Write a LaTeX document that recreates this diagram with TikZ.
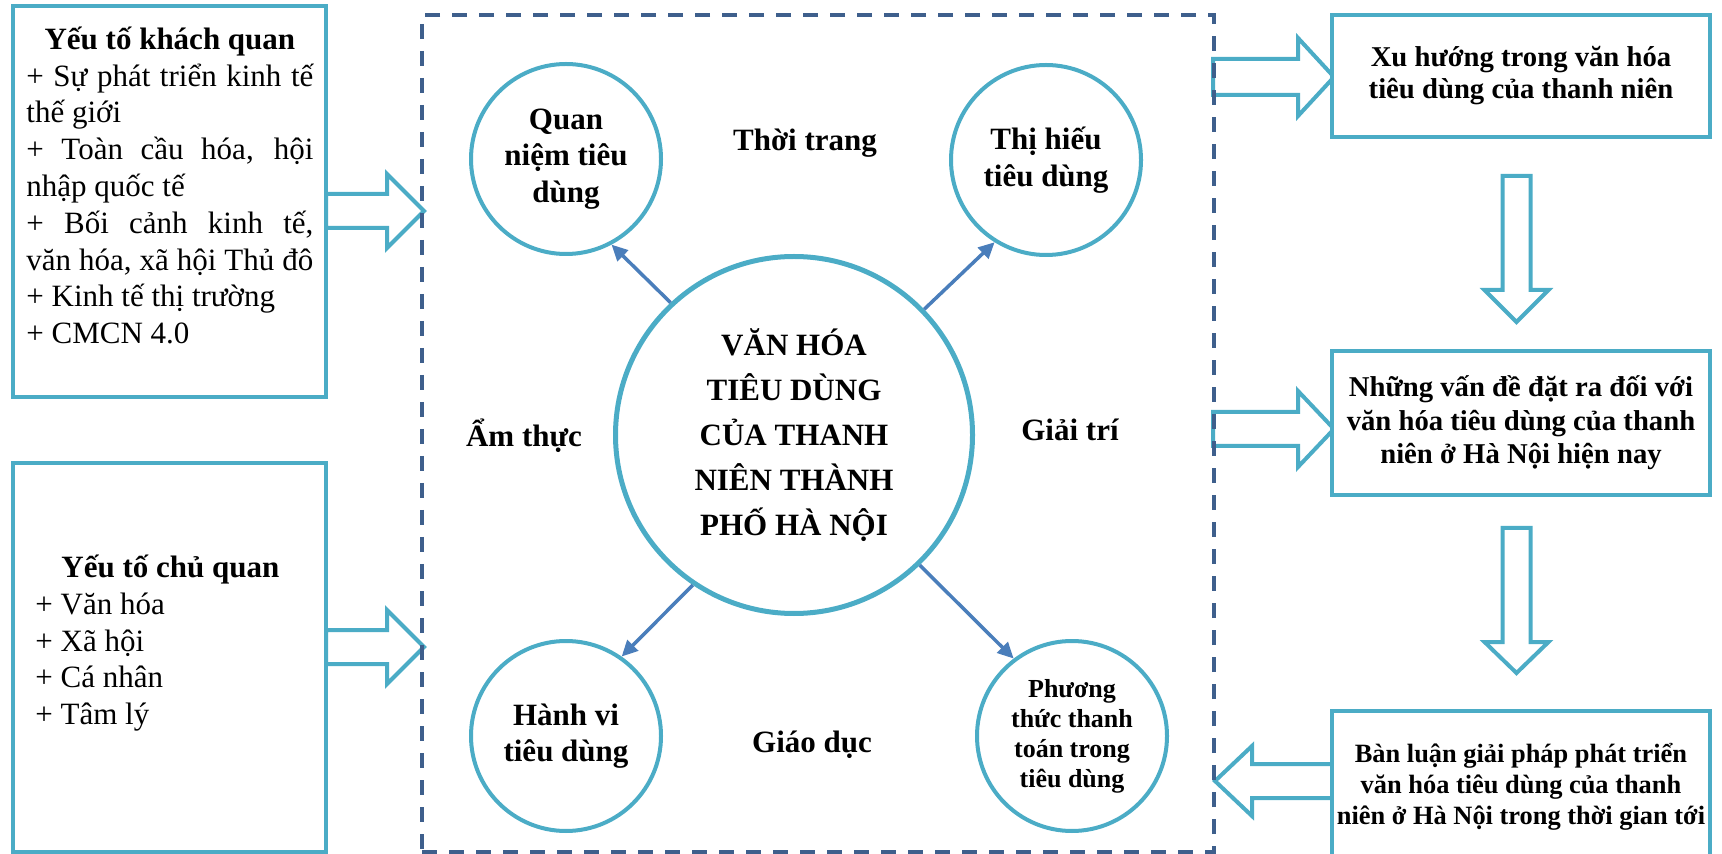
\documentclass[tikz,border=0pt]{standalone}
\usepackage{fontspec}
\setmainfont{Liberation Serif}
\usetikzlibrary{arrows.meta}
\definecolor{cyanB}{HTML}{4BACC6}
\definecolor{connC}{HTML}{4A7EBB}
\definecolor{dashB}{HTML}{3E5F8C}
\newcommand\blkH[6]{\draw[blockarr] (#1,#4-#5) -- (#2,#4-#5) -- (#2,#4-#6) -- (#3,#4) -- (#2,#4+#6) -- (#2,#4+#5) -- (#1,#4+#5) -- cycle;}
\newcommand\blkV[6]{\draw[blockarr] (#1-#5,#2) -- (#1-#5,#3) -- (#1-#6,#3) -- (#1,#4) -- (#1+#6,#3) -- (#1+#5,#3) -- (#1+#5,#2) -- cycle;}
\newcommand\fullline[1]{\makebox[143.5pt][s]{\spaceskip=0pt\xspaceskip=0pt\relax #1}}
\newcommand\natsp{\spaceskip=0pt\xspaceskip=0pt\relax}
\begin{document}
\begin{tikzpicture}[x=0.5pt,y=-0.5pt,
  box/.style={draw=cyanB, line width=2pt, fill=white, inner sep=0pt},
  circ/.style={circle, draw=cyanB, line width=2pt, fill=white, inner sep=0pt, minimum size=95pt, align=center, font=\bfseries\fontsize{15.5}{18.2}\selectfont},
  blockarr/.style={draw=cyanB, line width=2pt, fill=white, line join=miter},
  conn/.style={draw=connC, line width=1.75pt, -{Triangle[length=8pt,width=7.5pt]}},
  lbl/.style={font=\bfseries\fontsize{15.5}{18}\selectfont, inner sep=0pt, anchor=base},
  bodytext/.style={anchor=north west, inner sep=0pt, align=left, font=\fontsize{15.5}{18.4}\selectfont}
]
\useasboundingbox (0,0) rectangle (1722,854);
\clip (0,0) rectangle (1722,854);

% block arrows
\blkH{326}{387}{424}{211}{17}{37}
\blkH{326}{387}{424}{647}{17}{37}
\blkH{1213}{1298}{1334}{77}{18}{39}
\blkH{1213}{1298}{1334}{429}{17}{38}
\blkH{1332}{1252}{1215}{781}{17}{35}
\blkV{1516.5}{176}{290}{322}{14}{32}
\blkV{1516.5}{528}{642}{673}{14}{32}

% left boxes
\node[box, minimum width=156.5pt, minimum height=195.5pt] (k1) at (169.5,201.5) {};
\node[bodytext, text width=143.5pt] (k1t) at (26,19) {\natsp\rule{0pt}{15pt}\makebox[143.5pt][c]{\bfseries Yếu tố khách quan}\\
\fullline{+ Sự phát triển kinh tế}\\
thế giới\\
\fullline{+ Toàn cầu hóa, hội}\\
nhập quốc tế\\
\fullline{+ Bối cảnh kinh tế,}\\
\fullline{văn hóa, xã hội Thủ đô}\\
+ Kinh tế thị trường\\
+ CMCN 4.0};

\node[box, minimum width=156.5pt, minimum height=194.5pt] (k2) at (169.5,657.5) {};
\node[bodytext, text width=135pt] (k2t) at (35,547) {\natsp\rule{0pt}{15pt}\makebox[135pt][c]{\bfseries Yếu tố chủ quan}\\
+ Văn hóa\\
+ Xã hội\\
+ Cá nhân\\
+ Tâm lý};

% right boxes
\node[box, minimum width=189pt, minimum height=61pt, align=center, font=\bfseries\fontsize{14.35}{16}\selectfont] (ra) at (1521,76) {Xu hướng trong văn hóa\\tiêu dùng của thanh niên};
\node[box, minimum width=189pt, minimum height=72pt, align=center, font=\bfseries\fontsize{14.35}{16.75}\selectfont] (rb) at (1521,423) {Những vấn đề đặt ra đối với\\văn hóa tiêu dùng của thanh\\niên ở Hà Nội hiện nay};
\node[box, minimum width=189pt, minimum height=75.5pt, align=center, font=\bfseries\fontsize{13.2}{15.5}\selectfont] (rc) at (1521,786.5) {Bàn luận giải pháp phát triển\\văn hóa tiêu dùng của thanh\\niên ở Hà Nội trong thời gian tới};

% dashed frame
\node[draw=dashB, line width=1.6pt, dash pattern=on 7.5pt off 6pt, minimum width=396pt, minimum height=418.5pt, inner sep=0pt] (frame) at (818,433.5) {};

% circles
\node[circle, draw=cyanB, line width=2.5pt, minimum size=178.5pt, inner sep=0pt, align=center, font=\bfseries\fontsize{15.5}{22.5}\selectfont] (main) at (794,435) {VĂN HÓA\\TIÊU DÙNG\\CỦA THANH\\NIÊN THÀNH\\PHỐ HÀ NỘI};
\node[circ] (q) at (566,159) {Quan\\niệm tiêu\\dùng};
\node[circ] (t) at (1046,160) {Thị hiếu\\tiêu dùng};
\node[circ] (h) at (566,736) {Hành vi\\tiêu dùng};
\node[circ, font=\bfseries\fontsize{13}{15}\selectfont] (p) at (1072,736) {Phương\\thức thanh\\toán trong\\tiêu dùng};

% labels
\node[lbl] (l1) at (805,151) {Thời trang};
\node[lbl] (l2) at (524,447) {Ẩm thực};
\node[lbl] (l3) at (1070,441) {Giải trí};
\node[lbl] (l4) at (812,752) {Giáo dục};

% connectors
\draw[conn] (main.133) -- (q.298);
\draw[conn] (main.44) -- (t.238);
\draw[conn] (main.236) -- (h.55);
\draw[conn] (main.314) -- (p.127);
\end{tikzpicture}
\end{document}
